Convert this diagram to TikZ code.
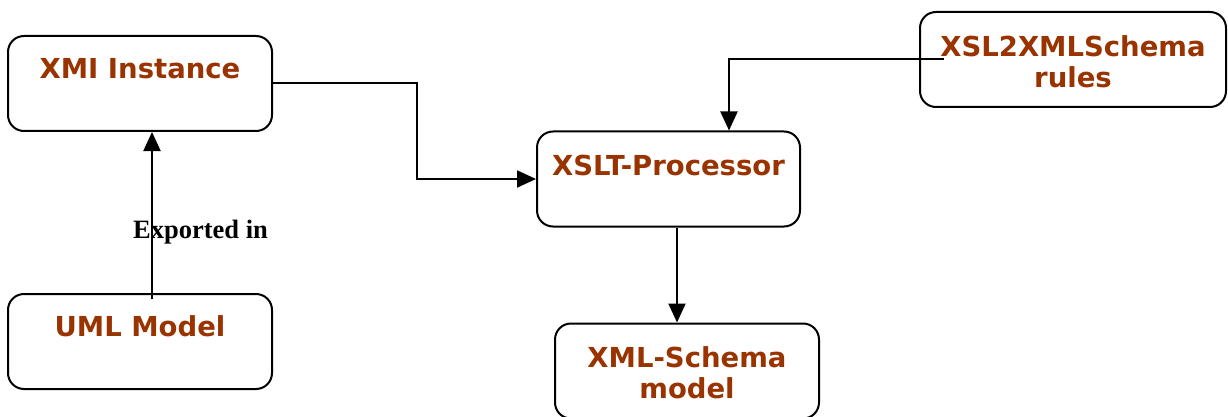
\documentclass[tikz,border=0pt]{standalone}
\usepackage{fontspec}
\setmainfont{Liberation Serif}
\newfontfamily\boxfont{DejaVu Sans}
\usetikzlibrary{arrows.meta,calc}
\definecolor{brick}{HTML}{993300}
\tikzset{
  box/.style={draw, line width=2pt, rounded corners=16pt, minimum width=#1, minimum height=95pt, inner sep=0pt},
  box/.default=264pt,
  lbl/.style={text=brick, font=\boxfont\bfseries\fontsize{27.5}{31}\selectfont, align=center, inner sep=0pt},
  arr/.style={line width=2pt, -{Triangle[length=19pt,width=17pt]}},
  note/.style={font=\bfseries\fontsize{26.5}{30}\selectfont, inner sep=0pt}
}
\begin{document}
\begin{tikzpicture}[x=1pt,y=-1pt]
  \useasboundingbox (0,0) rectangle (1228,417);
  \clip (0,0) rectangle (1228,417);
  % boxes
  \node[box] (xmi) at (140,83.5) {};
  \node[box] (uml) at (140,341.5) {};
  \node[box=263pt] (xslt) at (668.5,179) {};
  \node[box=306pt] (xsl2) at (1073,59.5) {};
  \node[box] (xsd) at (687,371) {};
  % box captions
  \node[lbl] (txmi) at (140,69) {XMI Instance};
  \node[lbl] (tuml) at (140,326) {UML Model};
  \node[lbl] (txslt) at (668.5,165) {XSLT-Processor};
  \node[lbl] (txsl2) at (1073,61.5) {XSL2XMLSchema\\rules};
  \node[lbl] (txsd) at (687,372.5) {XML-Schema\\model};
  % connectors
  \draw[arr] ($(uml.north)+(12,6)$) -- ($(xmi.south)+(12,0)$);
  \node[note, anchor=west] (exp) at (133,232) {Exported in};
  \draw[arr] (xmi.east) -- ++(144,0) |- (xslt.west);
  \draw[arr] ($(xsl2.west)+(25,0)$) -| ($(xslt.north)+(60.5,0)$);
  \draw[arr] ($(xslt.south)+(8.5,0)$) -- ($(xsd.north)+(-10,0)$);
\end{tikzpicture}
\end{document}
